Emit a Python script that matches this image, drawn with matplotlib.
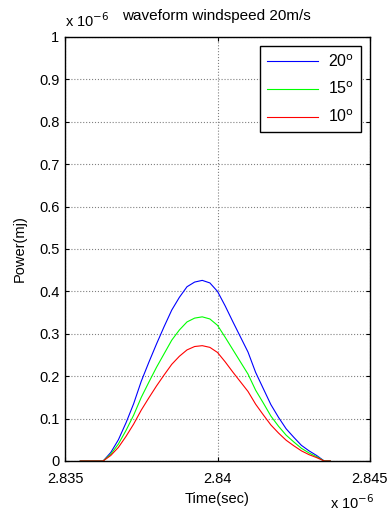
import numpy as np
import matplotlib.pyplot as plt

plt.rcParams['font.family'] = ['Liberation Sans', 'DejaVu Sans']

# time axis in units of 1e-6 s
time_us = [2.8355, 2.8360, 2.83625, 2.8365, 2.83675, 2.8370, 2.83725, 2.8375, 2.83775,
           2.8380, 2.83825, 2.8385, 2.83875, 2.8390, 2.83925, 2.8395, 2.83975, 2.8400,
           2.84025, 2.8405, 2.84075, 2.8410, 2.84125, 2.8415, 2.84175, 2.8420, 2.84225,
           2.8425, 2.84275, 2.8430, 2.84325, 2.8435, 2.8437]

# power in units of 1e-6
power_20 = [0, 0, 0, 0.02, 0.05, 0.09, 0.135, 0.188, 0.233, 0.276, 0.317, 0.356, 0.386,
            0.411, 0.422, 0.426, 0.42, 0.4, 0.366, 0.329, 0.293, 0.257, 0.209, 0.171,
            0.133, 0.103, 0.076, 0.056, 0.037, 0.024, 0.013, 0, 0]
power_15 = [0, 0, 0, 0.016, 0.04, 0.072, 0.108, 0.15, 0.186, 0.221, 0.253, 0.285, 0.309,
            0.328, 0.337, 0.34, 0.335, 0.32, 0.292, 0.263, 0.234, 0.205, 0.167, 0.137,
            0.106, 0.082, 0.061, 0.045, 0.03, 0.019, 0.01, 0, 0]
power_10 = [0, 0, 0, 0.013, 0.032, 0.058, 0.087, 0.12, 0.149, 0.177, 0.203, 0.228, 0.247,
            0.262, 0.27, 0.272, 0.268, 0.256, 0.234, 0.21, 0.187, 0.164, 0.134, 0.109,
            0.085, 0.066, 0.049, 0.036, 0.024, 0.015, 0.008, 0, 0]

labels = ['20$^{\\mathrm{o}}$', '15$^{\\mathrm{o}}$', '10$^{\\mathrm{o}}$']
colors = ['#0000ff', '#00ff00', '#ff0000']
x_ticks = [2.835, 2.84, 2.845]
x_tick_labels = ['2.835', '2.84', '2.845']
y_ticks = [0, 0.1, 0.2, 0.3, 0.4, 0.5, 0.6, 0.7, 0.8, 0.9, 1.0]
y_tick_labels = ['0', '0.1', '0.2', '0.3', '0.4', '0.5', '0.6', '0.7', '0.8', '0.9', '1']

fig = plt.figure(figsize=(3.9, 5.13), dpi=100)
ax = fig.add_axes([65 / 390, 1 - 461 / 513, 305 / 390, 424 / 513])

for series, label, color in zip([power_20, power_15, power_10], labels, colors):
    ax.plot(time_us, series, color=color, linewidth=0.8, label=label)

ax.set_xlim(2.835, 2.845)
ax.set_ylim(0, 1)
ax.set_xticks(x_ticks)
ax.set_xticklabels(x_tick_labels)
ax.set_yticks(y_ticks)
ax.set_yticklabels(y_tick_labels)
ax.tick_params(direction='in', top=True, right=True, labelsize=10.5, length=3, width=0.8)
ax.tick_params(axis='x', pad=8)
ax.tick_params(axis='y', pad=4)
ax.grid(True, color='#808080', linestyle=':', linewidth=0.8)
for spine in ax.spines.values():
    spine.set_linewidth(1.0)

ax.set_xlabel('Time(sec)', fontsize=10.5, labelpad=4)
ax.set_ylabel('Power(mj)', fontsize=10.5, labelpad=9)
ax.set_title('waveform windspeed 20m/s', fontsize=11, pad=12, x=0.495)

# MATLAB style exponent labels
fig.text(65 / 390, 1 - 21 / 513, 'x 10$^{-6}$', fontsize=10.5, va='center', ha='left')
fig.text(330 / 390, 1 - 503 / 513, 'x 10$^{-6}$', fontsize=10.5, va='center', ha='left')

leg = ax.legend(loc='upper right', fontsize=11.5, frameon=True, fancybox=False,
                edgecolor='black', framealpha=1, handlelength=3.2, borderpad=0.45,
                labelspacing=0.7, handletextpad=0.6, borderaxespad=0.55)
leg.get_frame().set_linewidth(1.0)

fig.savefig('out.png', dpi=100)
